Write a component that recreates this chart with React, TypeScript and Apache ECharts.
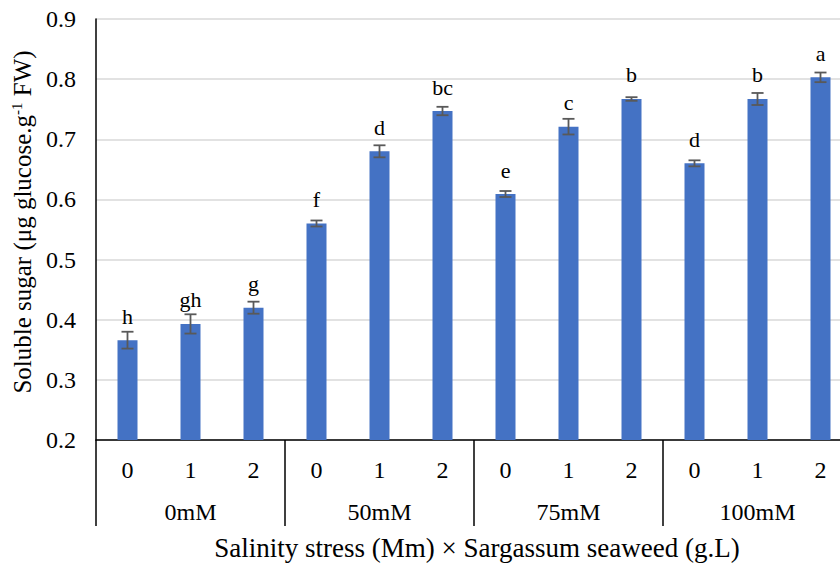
import React, { useEffect, useRef } from "react";
import * as echarts from "echarts";

const groups = ["0mM", "50mM", "75mM", "100mM"];
const doses = ["0", "1", "2"];
const categories = groups.flatMap((g) => doses.map((d) => `${g}-${d}`));
const means = [0.366, 0.393, 0.42, 0.56, 0.68, 0.747, 0.609, 0.721, 0.767, 0.66, 0.767, 0.803];
const errors = [0.014, 0.016, 0.01, 0.005, 0.01, 0.007, 0.005, 0.013, 0.003, 0.005, 0.01, 0.008];
const letters = ["h", "gh", "g", "f", "d", "bc", "e", "c", "b", "d", "b", "a"];
const yTicks = { min: 0.2, max: 0.9, interval: 0.1 };

const FONT = "Liberation Serif";
const rt = (size: number) => ({ fontSize: size, fontFamily: FONT, color: "#000", lineHeight: size });

export default function App() {
  const ref = useRef<HTMLDivElement>(null);
  useEffect(() => {
    if (!ref.current) return;
    const chart = echarts.init(ref.current, null, { renderer: "svg" });
    chart.setOption({
      animation: false,
      textStyle: { fontFamily: FONT, fontSize: 24, color: "#000" },
      grid: { left: 96, top: 19, width: 756, height: 421, containLabel: false },
      xAxis: [
        {
          type: "category",
          data: categories,
          position: "bottom",
          axisLine: { show: true, lineStyle: { color: "#000", width: 1.5 } },
          axisTick: { show: false },
          axisLabel: {
            interval: 0,
            margin: 18,
            fontSize: 24,
            fontFamily: FONT,
            color: "#000",
            formatter: (v: string) => `{t|${v.split("-")[1]}}`,
            rich: { t: rt(24) },
          },
          splitLine: { show: false },
        },
        {
          type: "category",
          data: groups,
          position: "bottom",
          axisLine: { show: false },
          axisTick: { show: true, length: 86, interval: 0, lineStyle: { color: "#000", width: 1.5 } },
          axisLabel: { interval: 0, margin: 60, fontSize: 24, fontFamily: FONT, color: "#000" },
          splitLine: { show: false },
        },
      ],
      yAxis: {
        type: "value",
        min: yTicks.min,
        max: yTicks.max,
        interval: yTicks.interval,
        axisLine: { show: true, lineStyle: { color: "#000", width: 1.5 } },
        axisTick: { show: false },
        axisLabel: {
          show: true,
          margin: 20,
          fontSize: 24,
          fontFamily: FONT,
          color: "#000",
          formatter: (v: number) => `{t|${v.toFixed(1)}}`,
          rich: { t: rt(24) },
        },
        splitLine: { show: true, lineStyle: { color: "#d9d9d9", width: 1.5 } },
      },
      series: [
        {
          type: "bar",
          xAxisIndex: 0,
          data: means,
          barWidth: 20,
          itemStyle: { color: "#4472C4" },
          label: {
            show: true,
            position: "top",
            distance: 13,
            fontSize: 22,
            fontFamily: FONT,
            color: "#000",
            formatter: (p: any) => `{t|${letters[p.dataIndex]}}`,
            rich: { t: rt(22) },
          },
        },
        {
          type: "custom",
          xAxisIndex: 0,
          z: 5,
          data: means.map((m, i) => [i, m - errors[i], m + errors[i]]),
          renderItem: (params: any, api: any) => {
            const x = api.value(0);
            const lo = api.coord([x, api.value(1)]);
            const hi = api.coord([x, api.value(2)]);
            const hw = 6;
            const style = { stroke: "#595959", lineWidth: 1.8 };
            return {
              type: "group",
              children: [
                { type: "line", shape: { x1: hi[0], y1: hi[1], x2: lo[0], y2: lo[1] }, style },
                { type: "line", shape: { x1: hi[0] - hw, y1: hi[1], x2: hi[0] + hw, y2: hi[1] }, style },
                { type: "line", shape: { x1: lo[0] - hw, y1: lo[1], x2: lo[0] + hw, y2: lo[1] }, style },
              ],
            };
          },
        },
      ],
      graphic: [
        {
          type: "text",
          x: 22,
          y: 222,
          rotation: Math.PI / 2,
          style: {
            text: "{a|Soluble sugar (μg glucose.g}{s|-1}{a| FW)}",
            rich: {
              a: { fontSize: 25, fontFamily: FONT, fill: "#000" },
              s: { fontSize: 15, fontFamily: FONT, fill: "#000", padding: [0, 0, 10, 0] },
            },
            align: "center",
            verticalAlign: "middle",
          },
        },
        {
          type: "text",
          x: 477,
          y: 548,
          style: {
            text: "Salinity stress (Mm) × Sargassum seaweed (g.L)",
            fontSize: 27,
            fontFamily: FONT,
            fill: "#000",
            align: "center",
            verticalAlign: "middle",
          },
        },
      ],
    });
    return () => chart.dispose();
  }, []);
  return (
    <div style={{ position: "absolute", left: 0, top: 0, width: 840, height: 563, overflow: "hidden" }}>
      <div ref={ref} style={{ width: 880, height: 563 }} />
    </div>
  );
}
